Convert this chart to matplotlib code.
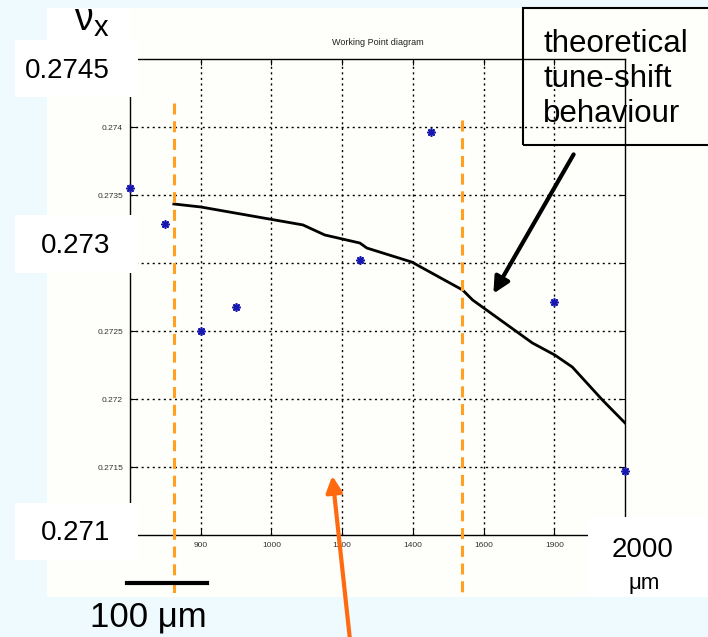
import numpy as np
import matplotlib
matplotlib.use("Agg")
import matplotlib.pyplot as plt
from matplotlib.patches import Rectangle, FancyArrowPatch

plt.rcParams['font.family'] = ['Liberation Sans', 'DejaVu Sans']

# measured tune values (blue stars)
meas_x = [600, 700, 800, 900, 1250, 1450, 1800, 2000]
meas_y = [0.27355, 0.27329, 0.2725, 0.27268, 0.27302, 0.27396, 0.27271, 0.27147]

# theoretical tune-shift curve
theo_x = [724, 800, 1089, 1151, 1250, 1270, 1397, 1541, 1569, 1738, 1801, 1851, 1936, 2000]
theo_y = [0.273434, 0.273412, 0.27328, 0.273206, 0.273147, 0.27311, 0.273007, 0.272801,
          0.272728, 0.272412, 0.272324, 0.272235, 0.271993, 0.271824]

# working window (orange dashed lines)
window_x = [724, 1538]

xticks = [800, 1000, 1200, 1400, 1600, 1800]
xtick_labels = ['900', '1000', '1200', '1400', '1600', '1900']
yticks = [0.2715, 0.272, 0.2725, 0.273, 0.2735, 0.274]
ytick_labels = ['0.2715', '0.272', '0.2725', '', '0.2735', '0.274']

W, H = 708, 637
fig = plt.figure(figsize=(W / 100, H / 100), dpi=100)
fig.patch.set_facecolor('#eefafe')


def fx(px):
    return px / W


def fy(py):
    return 1 - py / H


def box(x0, y0, x1, y1, color, z):
    fig.add_artist(Rectangle((fx(x0), fy(y1)), fx(x1) - fx(x0), fy(y0) - fy(y1),
                             transform=fig.transFigure, facecolor=color,
                             edgecolor='none', zorder=z))


# slide area with the matlab figure
box(47, 8, 708, 597, '#fefefb', -5)

ax = fig.add_axes([fx(130), fy(535), fx(625) - fx(130), fy(59) - fy(535)])
ax.set_facecolor('#fefefb')
ax.set_xlim(600, 2000)
ax.set_ylim(0.271, 0.2745)
ax.set_xticks(xticks)
ax.set_xticklabels(xtick_labels)
ax.set_yticks(yticks)
ax.set_yticklabels(ytick_labels)
ax.tick_params(direction='in', length=4, width=0.8, labelsize=6, colors='black',
               labelcolor='#333333', top=True, right=True, pad=5)
ax.grid(True, color='black', linestyle=(0, (1.5, 2.5)), linewidth=1.0)
for s in ax.spines.values():
    s.set_linewidth(1.0)
ax.set_title('Working Point diagram', fontsize=6.5, pad=10, color='#222222')

ax.plot(theo_x, theo_y, color='black', linewidth=2, zorder=3)
ax.plot(meas_x, meas_y, linestyle='none', marker=(8, 2, 0), color='#1818b0',
        markersize=6, markeredgewidth=1.2, clip_on=False, zorder=4)

# white label boxes pasted over the figure
box(15, 8, 47, 40, '#eefafe', 1)
box(47, 8, 130, 40, '#ffffff', 1)
box(15, 40, 138, 97, '#ffffff', 1)
box(15, 215, 138, 273, '#ffffff', 1)
box(15, 503, 138, 560, '#ffffff', 1)
box(588, 517, 708, 597, '#ffffff', 1)

for wx, top in zip(window_x, [0.274176, 0.27405]):
    ax.plot([wx, wx], [top, 0.270544], color='#ffa020', linewidth=2.2,
            dashes=(3.6, 2.2), clip_on=False, zorder=6)

fig.text(fx(67), fy(71), '0.2745', fontsize=20, ha='center', va='center', zorder=5)
fig.text(fx(76), fy(246), '0.273', fontsize=20, ha='center', va='center', zorder=5)
fig.text(fx(76), fy(533), '0.271', fontsize=20, ha='center', va='center', zorder=5)
fig.text(fx(643), fy(550), '2000', fontsize=20, ha='center', va='center', zorder=5)
fig.text(fx(644), fy(583), 'μm', fontsize=16, ha='center', va='center', zorder=5)
fig.text(fx(83), fy(30), 'ν', fontsize=27, ha='center', va='baseline', zorder=5)
fig.text(fx(101), fy(36), 'x', fontsize=21, ha='center', va='baseline', zorder=5)

# scale bar
fig.add_artist(plt.Line2D([fx(127), fx(207)], [fy(583), fy(583)], color='black',
                          linewidth=3, transform=fig.transFigure, zorder=6))
fig.text(fx(148), fy(617), '100 μm', fontsize=25, ha='center', va='center', zorder=6)

# annotation box
fig.add_artist(Rectangle((fx(523), fy(145)), fx(712) - fx(523), fy(8) - fy(145),
                         transform=fig.transFigure, facecolor='none',
                         edgecolor='black', linewidth=1.5, zorder=6))
fig.text(fx(543), fy(79), 'theoretical\ntune-shift\nbehaviour', fontsize=22.5,
         ha='left', va='center', linespacing=1.2, zorder=6)

fig.add_artist(FancyArrowPatch((fx(575), fy(152)), (fx(492), fy(296)),
                               transform=fig.transFigure, arrowstyle='-|>',
                               mutation_scale=24, color='black', linewidth=3, zorder=7))
fig.add_artist(FancyArrowPatch((fx(350), fy(640)), (fx(332), fy(473)),
                               transform=fig.transFigure, arrowstyle='-|>',
                               mutation_scale=24, color='#ff6a10', linewidth=3, zorder=7))

fig.savefig('out.png', dpi=100, facecolor=fig.get_facecolor())
